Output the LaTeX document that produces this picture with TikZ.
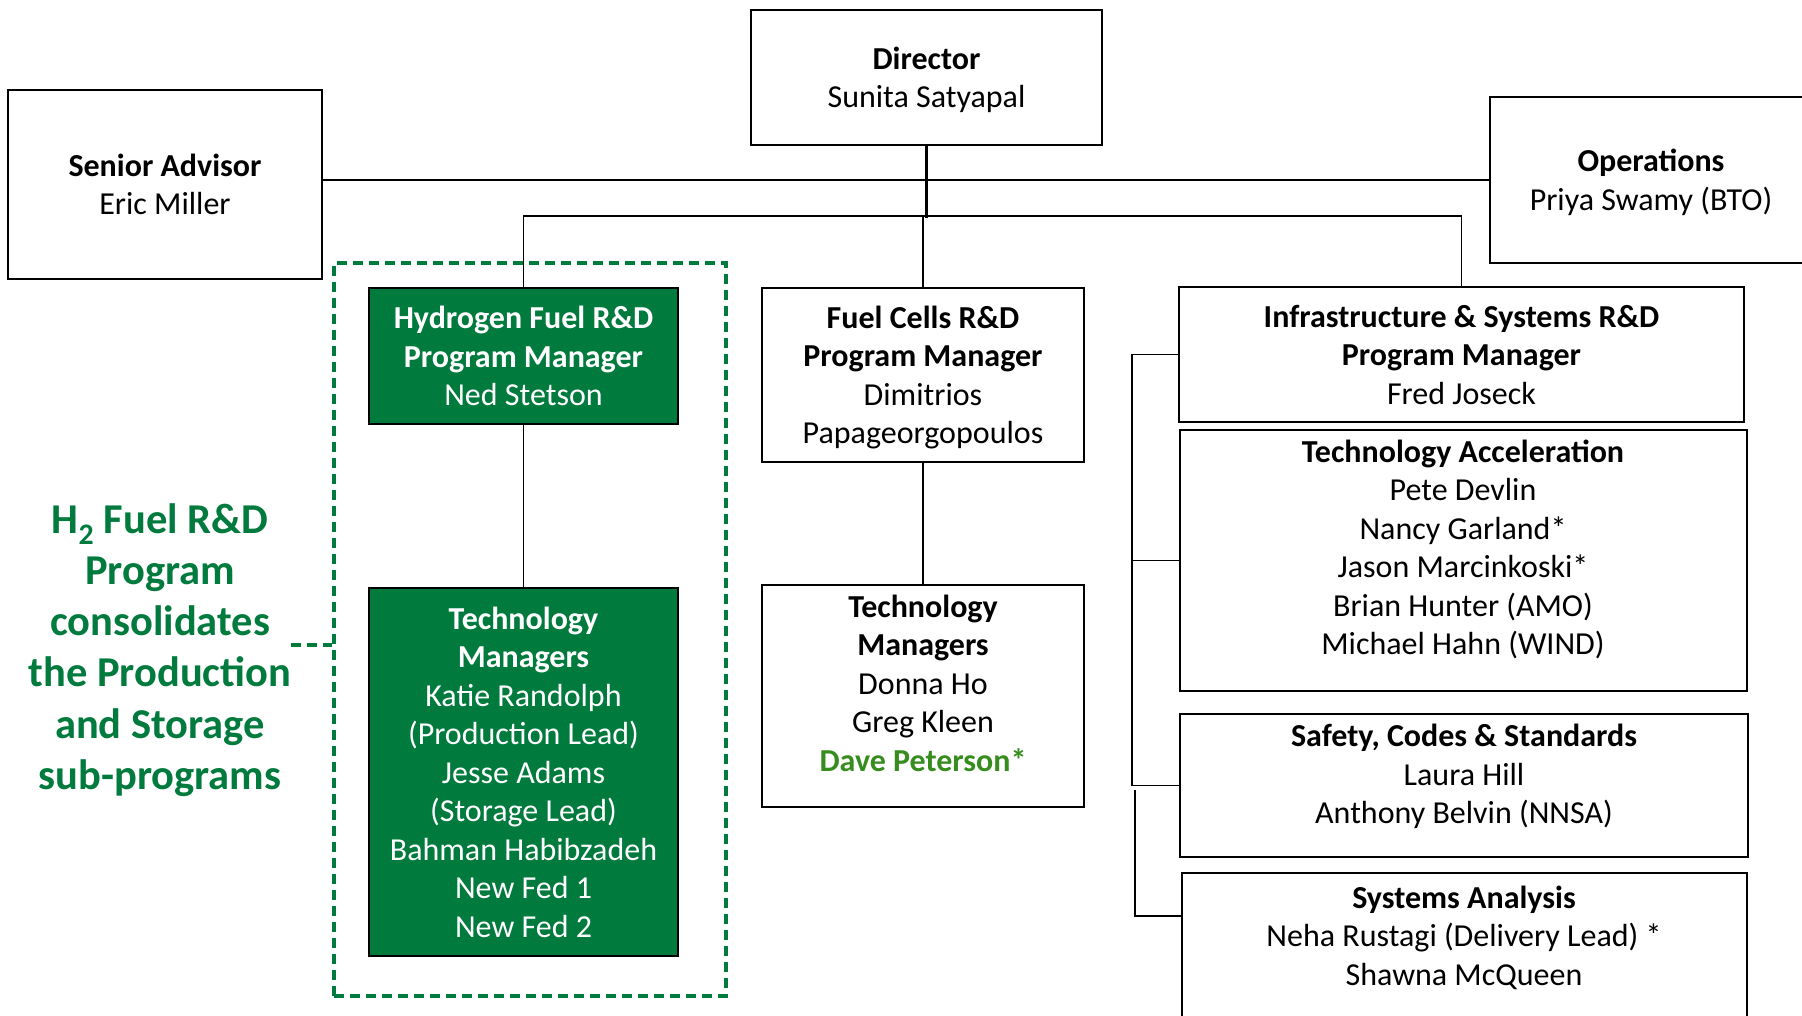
\documentclass[tikz,border=0pt]{standalone}
\usepackage{fontspec}
\setmainfont{Carlito}
\usepackage{tikz}
\usetikzlibrary{calc}
\definecolor{hgreen}{RGB}{0,122,61}
\definecolor{pgreen}{RGB}{55,140,30}
\newcommand{\nodp}[1]{\raisebox{0pt}[\height][0pt]{#1}}

\begin{document}
\begin{tikzpicture}[line cap=rect,line join=miter,x=1pt,y=-1pt,
  box/.style={draw,line width=1.6pt,inner sep=0pt,align=center,
    font=\fontsize{32}{38.5}\selectfont},
  gbox/.style={box,fill=hgreen,text=white},
  lbl/.style={inner sep=0pt,align=center,font=\fontsize{32}{38.5}\selectfont},
  link/.style={line width=1.8pt},
  stem/.style={line width=3.6pt},
  grpline/.style={draw=hgreen,line width=3.5pt,line cap=butt,dash pattern=on 10pt off 6pt}]
\useasboundingbox (0,0) rectangle (1802,1016);
% top row
\node[box,minimum width=351,minimum height=135] (dir) at (926.5,77.5)
  {\textbf{Director}\\\nodp{Sunita Satyapal}};
\node[box,minimum width=314,minimum height=189] (adv) at (165,184.5)
  {\textbf{Senior Advisor}\\Eric Miller};
\node[box,minimum width=322,minimum height=166] (ops) at (1651,180)
  {\textbf{Operations}\\\nodp{Priya Swamy (BTO)}};
% hydrogen
\node[gbox,minimum width=309,minimum height=136] (hyd) at (523.5,356)
  {\textbf{Hydrogen Fuel R\&D}\\\textbf{Program Manager}\\Ned Stetson};
\node[gbox,minimum width=309,minimum height=368] (tmh) at (523.5,772)
  {\textbf{Technology}\\\textbf{Managers}\\Katie Randolph\\(Production Lead)\\
   Jesse Adams\\(Storage Lead)\\Bahman Habibzadeh\\New Fed 1\\New Fed 2};
\node[grpline,minimum width=392,minimum height=733,inner sep=0pt] (h2grp) at (530,629.5) {};
\node[inner sep=0pt,align=center,text=hgreen,
  font=\fontsize{42.5}{51.3}\selectfont\bfseries] (h2note) at (160,650)
  {H\textsubscript{2} Fuel R\&D\\Program\\consolidates\\the Production\\and Storage\\sub-programs};
\coordinate (stub) at (291,645);
% fuel cells
\node[box,minimum width=322,minimum height=174] (fc) at (923,375)
  {\textbf{Fuel Cells R\&D}\\\textbf{Program Manager}\\Dimitrios\\\nodp{Papageorgopoulos}};
\node[box,minimum width=322,minimum height=222] (tmf) at (923,696) {};
\node[lbl] (tmftxt) at (923,683)
  {\textbf{Technology}\\\textbf{Managers}\\Donna Ho\\Greg Kleen\\
   \textcolor{pgreen}{\textbf{Dave Peterson*}}};
% infrastructure
\node[box,minimum width=565,minimum height=135] (infra) at (1461.5,354.5)
  {\textbf{Infrastructure \& Systems R\&D}\\\textbf{Program Manager}\\Fred Joseck};
\node[box,minimum width=567,minimum height=261] (accel) at (1463.5,560.5) {};
\node[lbl] (acceltxt) at (1463,549.5)
  {\textbf{Technology Acceleration}\\Pete Devlin\\Nancy Garland*\\
   Jason Marcinkoski*\\Brian Hunter (AMO)\\Michael Hahn (WIND)};
\node[box,minimum width=568,minimum height=143] (safety) at (1464,785.5) {};
\node[lbl] (safetytxt) at (1464,776.5)
  {\textbf{Safety, Codes \& Standards}\\Laura Hill\\Anthony Belvin (NNSA)};
\node[box,minimum width=565,minimum height=190] (sysan) at (1464.5,968) {};
\node[lbl] (sysantxt) at (1464,937.5)
  {\textbf{Systems Analysis}\\Neha Rustagi (Delivery Lead) *\\Shawna McQueen};

% connectors
\coordinate (bus) at (0,216);
\coordinate (brk) at (1132,0);
\coordinate (brk2) at (1135,791);
\coordinate (satick) at (1182,916);
\draw[link] (adv.east |- ops.west) -- (ops.west);
\draw[stem] (dir.south) -- (dir.south |- bus);
\draw[link] (hyd.north) |- (infra.north |- bus) -- (infra.north);
\draw[link] (fc.north) -- (fc.north |- bus);
\draw[link] (hyd.south) -- (tmh.north);
\draw[link] (fc.south) -- (tmf.north);
\draw[link] (infra.west) -| (brk |- safety.west) -- (safety.west);
\draw[link] (accel.west) -- (brk |- accel.west);
\draw[link] (brk2) |- (satick);
\draw[grpline] (stub) -- (stub -| h2grp.west);
\end{tikzpicture}
\end{document}
